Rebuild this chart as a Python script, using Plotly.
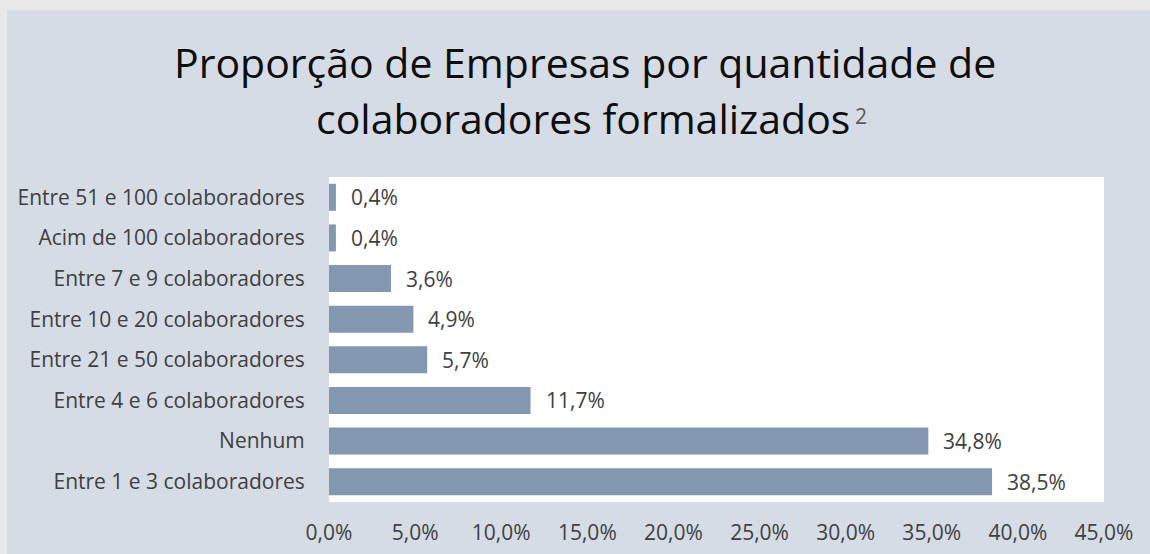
import plotly.graph_objects as go

categories = [
    "Entre 51 e 100 colaboradores",
    "Acim de 100 colaboradores",
    "Entre 7 e 9 colaboradores",
    "Entre 10 e 20 colaboradores",
    "Entre 21 e 50 colaboradores",
    "Entre 4 e 6 colaboradores",
    "Nenhum",
    "Entre 1 e 3 colaboradores",
]
values = [0.4, 0.4, 3.6, 4.9, 5.7, 11.7, 34.8, 38.5]
x_ticks = [0, 5, 10, 15, 20, 25, 30, 35, 40, 45]
x_tick_text = [f"{t:.1f}%".replace(".", ",") for t in x_ticks]

W, H = 1150, 554
L, R, T, B = 329, 46, 177, 52
pw, ph = W - L - R, H - T - B

def px_x(p):
    return (p - L) / pw

def px_y(p):
    return (H - B - p) / ph

FONT = "'Open Sans', 'Noto Sans', sans-serif"
BAR = "#8497b0"
PANEL = "#d6dce5"

fig = go.Figure(go.Bar(
    x=values, y=categories, orientation="h",
    marker=dict(color=BAR, line=dict(width=0)),
    hoverinfo="skip",
))

for c, v in zip(categories, values):
    fig.add_annotation(x=v, y=c, xref="x", yref="y", text=f"{v:.1f}%".replace(".", ","),
                       showarrow=False, xanchor="left", xshift=13,
                       font=dict(family=FONT, size=21, color="#404040"))

fig.add_shape(type="rect", xref="paper", yref="paper", layer="below",
              x0=px_x(7), x1=px_x(W + 5), y0=px_y(H + 5), y1=px_y(10),
              fillcolor=PANEL, line=dict(width=0))
fig.add_shape(type="rect", xref="paper", yref="paper", layer="below",
              x0=0, x1=1, y0=0, y1=1, fillcolor="white", line=dict(width=0))

fig.add_annotation(xref="paper", yref="paper", x=px_x(585), y=px_y(62),
                   text="Proporção de Empresas por quantidade de", showarrow=False,
                   xanchor="center", yanchor="middle",
                   font=dict(family=FONT, size=41, color="#0d0d0d"))
fig.add_annotation(xref="paper", yref="paper", x=px_x(583), y=px_y(118),
                   text="colaboradores formalizados",
                   showarrow=False, xanchor="center", yanchor="middle",
                   font=dict(family=FONT, size=41, color="#0d0d0d"))
fig.add_annotation(xref="paper", yref="paper", x=px_x(861), y=px_y(116),
                   text="2", showarrow=False, xanchor="center", yanchor="middle",
                   font=dict(family=FONT, size=21, color="#595959"))

fig.update_layout(
    width=W, height=H,
    margin=dict(l=L, r=R, t=T, b=B, pad=0, autoexpand=False),
    paper_bgcolor="#e8e8e8",
    plot_bgcolor="rgba(0,0,0,0)",
    bargap=0.335,
    showlegend=False,
    font=dict(family=FONT, color="#404040"),
)
fig.update_xaxes(range=[0, 45], tickvals=x_ticks, ticktext=x_tick_text, automargin=False,
                 showgrid=False, zeroline=False, showline=False,
                 ticks="outside", ticklen=12, tickcolor="rgba(0,0,0,0)",
                 tickfont=dict(family=FONT, size=21, color="#404040"), fixedrange=True)
fig.update_yaxes(autorange="reversed", automargin=False, showgrid=False, zeroline=False, showline=False,
                 ticks="outside", ticklen=19, tickcolor="rgba(0,0,0,0)",
                 tickfont=dict(family=FONT, size=21, color="#404040"), fixedrange=True)

fig.write_html("out.html", config={"displayModeBar": False},
               post_script="document.body.style.margin='0';document.body.style.overflow='hidden';")
